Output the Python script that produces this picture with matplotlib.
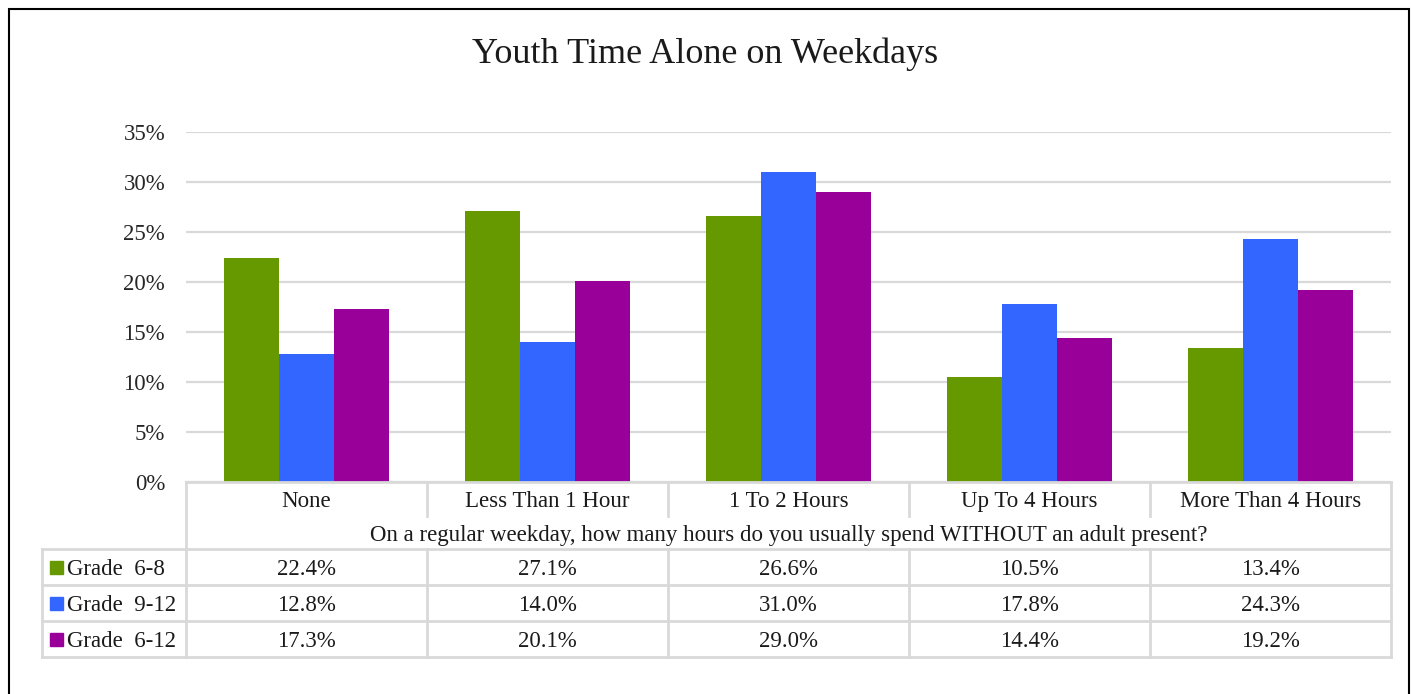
import matplotlib
matplotlib.use("Agg")
import matplotlib.pyplot as plt
import matplotlib.transforms as mtransforms
from matplotlib.patches import Rectangle
import numpy as np

categories = ["None", "Less Than 1 Hour", "1 To 2 Hours", "Up To 4 Hours", "More Than 4 Hours"]
series_names = ["Grade  6-8", "Grade  9-12", "Grade  6-12"]
grade_6_8 = [22.4, 27.1, 26.6, 10.5, 13.4]
grade_9_12 = [12.8, 14.0, 31.0, 17.8, 24.3]
grade_6_12 = [17.3, 20.1, 29.0, 14.4, 19.2]
colors = ["#669900", "#3366FF", "#990099"]
axis_title = "On a regular weekday, how many hours do you usually spend WITHOUT an adult present?"
chart_title = "Youth Time Alone on Weekdays"

W, H = 1411, 694
plt.rcParams['font.family'] = ['Liberation Serif', 'DejaVu Serif']
fig = plt.figure(figsize=(W / 100, H / 100), dpi=100)

def fx(px):
    return px / W

def fy(py):
    return 1 - py / H

# plot area in pixels
left, right, top, bottom = 186, 1391, 132, 482
ax = fig.add_axes([fx(left), fy(bottom), fx(right - left), (bottom - top) / H])

series = [grade_6_8, grade_9_12, grade_6_12]
x = np.arange(len(categories))
bw = 0.228
for i, (vals, col) in enumerate(zip(series, colors)):
    ax.bar(x + (i - 1) * bw, np.array(vals) / 100, width=bw, color=col, zorder=3)

fs = 16.5
ax.set_xlim(-0.5, len(categories) - 0.5)
ax.set_ylim(0, 0.35)
ax.set_yticks(np.arange(0, 0.351, 0.05))
ax.set_yticklabels([f"{int(round(v * 100))}%" for v in np.arange(0, 0.351, 0.05)], fontsize=fs, color="#262626")
ax.tick_params(axis="y", length=0, pad=15)
ax.set_xticks([])
ax.grid(axis="y", color="#d9d9d9", linewidth=1.6, zorder=0)
for s in ax.spines.values():
    s.set_visible(False)

fig.suptitle(chart_title, x=0.5, y=fy(50), va="center_baseline", fontsize=26, color="#1a1a1a")

# data table below the plot
tr = mtransforms.blended_transform_factory(ax.transData, fig.transFigure)
line_kw = dict(color="#d9d9d9", linewidth=2, clip_on=False)
edges = np.arange(len(categories) + 1) - 0.5
row_lines = [549, 585, 621, 657]
tbl_left = 42

# horizontal lines
fig.add_artist(plt.Line2D([fx(left), fx(right)], [fy(bottom), fy(bottom)], transform=fig.transFigure, **line_kw))
for ry in row_lines:
    fig.add_artist(plt.Line2D([fx(tbl_left), fx(right)], [fy(ry), fy(ry)], transform=fig.transFigure, **line_kw))
# vertical lines
for e in edges[1:-1]:
    fig.add_artist(plt.Line2D([e, e], [fy(bottom), fy(516)], transform=tr, **line_kw))
for e in [edges[0], edges[-1]]:
    fig.add_artist(plt.Line2D([e, e], [fy(bottom), fy(row_lines[-1])], transform=tr, **line_kw))
for e in edges[1:-1]:
    fig.add_artist(plt.Line2D([e, e], [fy(row_lines[0]), fy(row_lines[-1])], transform=tr, **line_kw))
fig.add_artist(plt.Line2D([fx(tbl_left), fx(tbl_left)], [fy(row_lines[0]), fy(row_lines[-1])],
                          transform=fig.transFigure, **line_kw))

txt_kw = dict(va="center_baseline", fontsize=fs, color="#1a1a1a")
for xi, cat in zip(x, categories):
    fig.text(xi, fy(499), cat, transform=tr, ha="center", **txt_kw)
fig.text(2, fy(533), axis_title, transform=tr, ha="center", **txt_kw)

for r, (name, vals, col) in enumerate(zip(series_names, series, colors)):
    yc = (row_lines[r] + row_lines[r + 1]) / 2
    fig.add_artist(Rectangle((fx(50), fy(yc + 6.5)), 13 / W, 13 / H, transform=fig.transFigure,
                             color=col, clip_on=False))
    fig.text(fx(67), fy(yc), name, ha="left", **txt_kw)
    for xi, v in zip(x, vals):
        fig.text(xi, fy(yc), f"{v:.1f}%", transform=tr, ha="center", **txt_kw)

# outer border
fig.add_artist(Rectangle((fx(9), fy(705)), 1400 / W, 696 / H, transform=fig.transFigure,
                         fill=False, edgecolor="black", linewidth=1.5, clip_on=False))

fig.savefig("out.png", dpi=100)
